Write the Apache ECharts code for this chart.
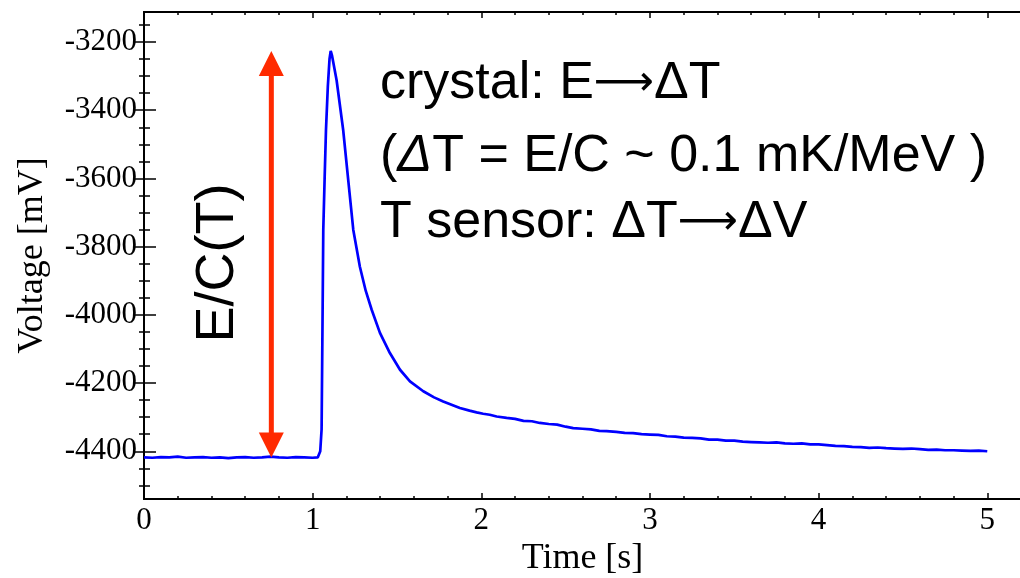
<!DOCTYPE html>
<html>
<head>
<meta charset="utf-8">
<script src="https://cdn.jsdelivr.net/npm/echarts@6/dist/echarts.min.js"></script>
<style>
  html, body { margin: 0; padding: 0; background: #fff; }
  #chart { width: 1020px; height: 578px; }
</style>
</head>
<body>
<div id="chart"></div>
<script>
// Bolometer pulse: sensor voltage vs. time
const timeS = [
  0, 0.05, 0.1, 0.15, 0.2, 0.25, 0.3, 0.35, 0.4, 0.45, 0.5, 0.55, 0.6, 0.65, 0.7, 0.75, 0.8, 0.85, 0.9, 0.95, 1.0, 1.03,
  1.045, 1.053, 1.058, 1.063, 1.071, 1.079, 1.09, 1.1, 1.107,
  1.115, 1.142, 1.181, 1.211, 1.241, 1.28, 1.315, 1.35, 1.399, 1.458, 1.518, 1.577, 1.656, 1.72, 1.774, 1.873, 1.93, 1.972,
  2.011, 2.05, 2.091, 2.15, 2.2, 2.25, 2.3, 2.347, 2.4, 2.45, 2.5, 2.545, 2.6, 2.65, 2.7, 2.743, 2.8, 2.85, 2.9, 2.95,
  3.0, 3.05, 3.1, 3.15, 3.2, 3.25, 3.3, 3.35, 3.4, 3.45, 3.5, 3.55, 3.6, 3.65, 3.7, 3.75, 3.8, 3.85, 3.9, 3.95,
  4.0, 4.05, 4.1, 4.15, 4.2, 4.25, 4.3, 4.35, 4.4, 4.45, 4.5, 4.55, 4.6, 4.65, 4.7, 4.75, 4.8, 4.85, 4.9, 4.95, 5.0
];
const voltageMV = [
  -4418, -4419, -4417, -4418, -4416, -4419, -4418, -4417, -4419, -4418, -4420, -4418, -4417, -4419, -4418, -4416, -4418, -4419, -4417, -4418, -4419, -4418,
  -4400, -4336, -4050, -3751, -3600, -3458, -3330, -3250, -3226,
  -3240, -3312, -3458, -3605, -3751, -3859, -3930, -3985, -4053, -4112, -4161, -4195, -4224, -4242, -4254, -4273, -4281, -4286,
  -4290, -4293, -4298, -4302, -4305, -4311, -4312, -4317, -4320, -4322, -4328, -4332, -4334, -4336, -4340, -4341, -4343, -4346, -4347, -4350,
  -4351, -4352, -4356, -4357, -4360, -4361, -4362, -4366, -4366, -4369, -4369, -4372, -4373, -4374, -4375, -4374, -4377, -4378, -4377, -4380,
  -4380, -4382, -4384, -4385, -4387, -4388, -4390, -4389, -4391, -4392, -4393, -4392, -4394, -4396, -4395, -4397, -4397, -4398, -4399, -4398, -4400
];
const xTicks = [0, 1, 2, 3, 4, 5];
const yTicks = [-4400, -4200, -4000, -3800, -3600, -3400, -3200];
const triggerTime = 1.03;   // pulse onset [s]
const arrowTime = 0.755;    // where the amplitude arrow is drawn [s]

const X_MIN = 0, X_MAX = 5.2;
const Y_MIN = -4540, Y_MAX = -3112;

function multiples(lo, hi, step) {
  const out = [];
  for (let v = Math.ceil(lo / step) * step; v <= hi + 1e-9; v += step) out.push(+v.toFixed(6));
  return out;
}
const xMinor = multiples(X_MIN, X_MAX, 0.2);
const yMinor = multiples(Y_MIN, Y_MAX, 50);

// amplitude: baseline mean before the trigger up to the pulse maximum
const pre = voltageMV.filter((v, i) => timeS[i] < triggerTime);
const baseline = pre.reduce((a, b) => a + b, 0) / pre.length;
const peak = Math.max.apply(null, voltageMV);

const pulse = timeS.map((t, i) => [t, voltageMV[i]]);

const serif = 'Liberation Serif';
const sans = 'Liberation Sans';
const black = '#000';
const red = '#ff2a00';
const plain = v => String(v);

function xAxisDef(grid, pos, ticks, len, labels) {
  return {
    type: 'value', gridIndex: grid, position: pos, min: X_MIN, max: X_MAX,
    splitLine: { show: false },
    axisLine: { show: grid === 0, lineStyle: { color: black, width: 2 } },
    axisTick: { show: true, inside: true, length: len, customValues: ticks, lineStyle: { color: black, width: 1.5 } },
    axisLabel: labels ? { show: true, customValues: ticks, formatter: plain, margin: 6, color: black, fontFamily: serif, fontSize: 31 } : { show: false },
    ...(labels ? { name: 'Time [s]', nameLocation: 'middle', nameGap: 40,
      nameTextStyle: { color: black, fontFamily: serif, fontSize: 36 } } : {})
  };
}
function yAxisDef(grid, pos, ticks, len, labels) {
  return {
    type: 'value', gridIndex: grid, position: pos, min: Y_MIN, max: Y_MAX,
    splitLine: { show: false },
    axisLine: { show: grid === 0, lineStyle: { color: black, width: 2 } },
    axisTick: { show: true, inside: true, length: len, customValues: ticks, lineStyle: { color: black, width: 1.5 } },
    axisLabel: labels ? { show: true, customValues: ticks, formatter: plain, margin: 7, color: black, fontFamily: serif, fontSize: 31 } : { show: false },
    ...(labels ? { name: 'Voltage [mV]', nameLocation: 'middle', nameGap: 93,
      nameTextStyle: { color: black, fontFamily: serif, fontSize: 36 } } : {})
  };
}

const gridRect = { left: 144, top: 12, right: -1, bottom: 79, containLabel: false, outerBoundsMode: 'none' };

const arrowRich = { a: { fontFamily: 'DejaVu Sans', fontSize: 42, fill: black } };

const chart = echarts.init(document.getElementById('chart'), null, { renderer: 'canvas' });
chart.setOption({
  animation: false,
  backgroundColor: '#fff',
  grid: [Object.assign({}, gridRect), Object.assign({}, gridRect)],
  xAxis: [
    xAxisDef(0, 'bottom', xTicks, 6, true),
    xAxisDef(0, 'top', xTicks, 6, false),
    xAxisDef(1, 'bottom', xMinor, 3, false),
    xAxisDef(1, 'top', xMinor, 3, false)
  ],
  yAxis: [
    yAxisDef(0, 'left', yTicks, 12, true),
    yAxisDef(0, 'right', yTicks, 11, false),
    yAxisDef(1, 'left', yMinor, 6, false),
    yAxisDef(1, 'right', yMinor, 5, false)
  ],
  series: [
    {
      type: 'line', xAxisIndex: 0, yAxisIndex: 0,
      data: pulse, showSymbol: false, symbol: 'none',
      lineStyle: { color: '#0000ff', width: 2.7 },
      z: 3
    },
    {
      // double-headed arrow spanning the pulse amplitude
      type: 'custom', xAxisIndex: 0, yAxisIndex: 0,
      data: [[arrowTime, baseline, peak]],
      z: 4,
      renderItem: function (params, api) {
        const top = api.coord([api.value(0), api.value(2)]);
        const bot = api.coord([api.value(0), api.value(1)]);
        const hw = 12.5, hh = 25;
        return {
          type: 'group',
          children: [
            { type: 'line', shape: { x1: top[0], y1: top[1] + hh - 1, x2: bot[0], y2: bot[1] - hh + 1 },
              style: { stroke: red, lineWidth: 5 } },
            { type: 'polygon', shape: { points: [[top[0], top[1]], [top[0] - hw, top[1] + hh], [top[0] + hw, top[1] + hh]] },
              style: { fill: red } },
            { type: 'polygon', shape: { points: [[bot[0], bot[1]], [bot[0] - hw, bot[1] - hh], [bot[0] + hw, bot[1] - hh]] },
              style: { fill: red } }
          ]
        };
      }
    }
  ],
  graphic: [
    { type: 'text', left: 380, top: 58, style: { text: 'crystal: E{a|\u27F6}\u0394T', fontFamily: sans, fontSize: 52, fill: black, rich: arrowRich } },
    { type: 'text', left: 380, top: 131, style: {
        text: '({i|\u0394}T = E/C ~ 0.1 mK/MeV )', fontFamily: sans, fontSize: 52, fill: black,
        rich: { i: { fontFamily: sans, fontSize: 52, fontStyle: 'italic', fill: black } } } },
    { type: 'text', left: 380, top: 197, style: { text: 'T sensor: \u0394T{a|\u27F6}\u0394V', fontFamily: sans, fontSize: 52, fill: black, rich: arrowRich } },
    { type: 'text', x: 218, y: 263, rotation: Math.PI / 2,
      style: { text: 'E/C(T)', fontFamily: sans, fontSize: 54, fill: black, align: 'center', verticalAlign: 'middle' } }
  ]
});
</script>
</body>
</html>
